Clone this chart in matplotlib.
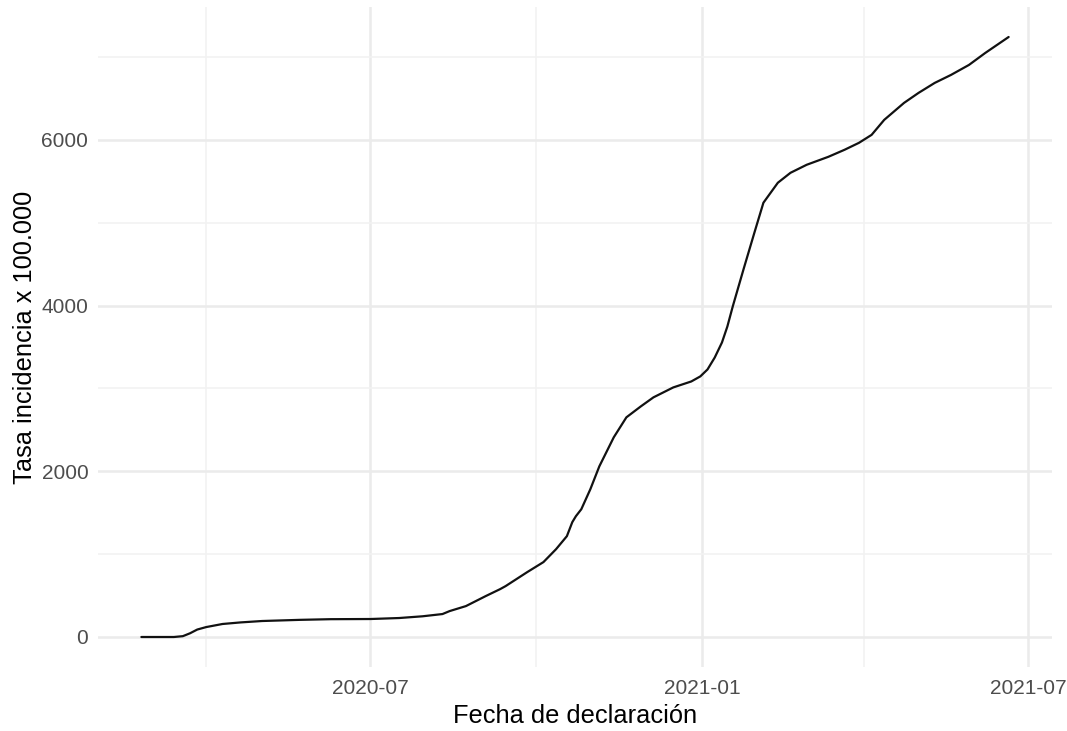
import matplotlib
matplotlib.use("Agg")
import matplotlib.pyplot as plt
import matplotlib.dates as mdates
import numpy as np
import pandas as pd

dates = ["2020-02-25", "2020-03-14", "2020-03-19", "2020-03-23", "2020-03-27",
         "2020-04-01", "2020-04-10", "2020-04-20", "2020-05-02", "2020-05-23",
         "2020-06-09", "2020-07-01", "2020-07-17", "2020-07-30", "2020-08-10",
         "2020-08-14", "2020-08-23", "2020-09-03", "2020-09-11", "2020-09-14",
         "2020-09-26", "2020-10-05", "2020-10-12", "2020-10-18", "2020-10-21",
         "2020-10-23", "2020-10-26", "2020-10-31", "2020-11-05", "2020-11-13",
         "2020-11-20", "2020-11-28", "2020-12-05", "2020-12-16", "2020-12-26",
         "2020-12-31", "2021-01-04", "2021-01-08", "2021-01-12", "2021-01-15",
         "2021-01-18", "2021-01-24", "2021-01-30", "2021-02-04", "2021-02-12",
         "2021-02-19", "2021-02-28", "2021-03-12", "2021-03-21", "2021-03-29",
         "2021-04-05", "2021-04-12", "2021-04-23", "2021-05-01", "2021-05-10",
         "2021-05-19", "2021-05-29", "2021-06-07", "2021-06-20"]
tasa = [0, 0, 10, 45, 90,
        120, 157, 176, 193, 207,
        215, 217, 229, 250, 277,
        313, 373, 494, 578, 614,
        783, 904, 1060, 1217, 1386,
        1458, 1542, 1783, 2060, 2410,
        2651, 2783, 2892, 3012, 3084,
        3145, 3229, 3373, 3554, 3747,
        3990, 4440, 4880, 5241, 5482,
        5602, 5699, 5795, 5880, 5964,
        6060, 6241, 6446, 6566, 6687,
        6783, 6904, 7048, 7241]

x_major = ["2020-07-01", "2021-01-01", "2021-07-01"]
x_minor = ["2020-04-01", "2020-10-01", "2021-04-01"]
x_labels = ["2020-07", "2021-01", "2021-07"]
y_major = [0, 2000, 4000, 6000]
y_minor = [1000, 3000, 5000, 7000]

plt.rcParams["font.family"] = ["Liberation Sans", "DejaVu Sans"]

fig = plt.figure(figsize=(10.67, 7.31), dpi=100)
ax = fig.add_axes([98 / 1067, 1 - 667 / 731, (1052 - 98) / 1067, (667 - 7) / 731])

d = pd.to_datetime(dates)
ax.plot(d, tasa, color="#111111", lw=1.6, zorder=3,
        solid_joinstyle="round", solid_capstyle="round")

xmin, xmax = mdates.date2num(d[0]), mdates.date2num(d[-1])
xr = xmax - xmin
ax.set_xlim(xmin - 0.05 * xr, xmax + 0.05 * xr)
ymax = max(tasa)
ax.set_ylim(-0.05 * ymax, ymax * 1.05)

ax.set_xticks(mdates.date2num(pd.to_datetime(x_major)))
ax.set_xticklabels(x_labels)
ax.set_xticks(mdates.date2num(pd.to_datetime(x_minor)), minor=True)
ax.set_yticks(y_major)
ax.set_yticklabels([str(v) for v in y_major])
ax.set_yticks(y_minor, minor=True)

ax.grid(which="major", color="#EBEBEB", lw=1.8)
ax.grid(which="minor", color="#F2F2F2", lw=1.2)
ax.set_axisbelow(True)
for s in ax.spines.values():
    s.set_visible(False)
ax.tick_params(which="both", length=0)
ax.tick_params(axis="both", labelsize=15, labelcolor="#4D4D4D")
ax.tick_params(axis="x", pad=9)
ax.tick_params(axis="y", pad=7)

ax.set_xlabel("Fecha de declaración", fontsize=18.3, color="black", labelpad=4)
ax.set_ylabel("Tasa incidencia x 100.000", fontsize=18.3, color="black", labelpad=3)

fig.savefig("out.png", dpi=100, facecolor="white")
